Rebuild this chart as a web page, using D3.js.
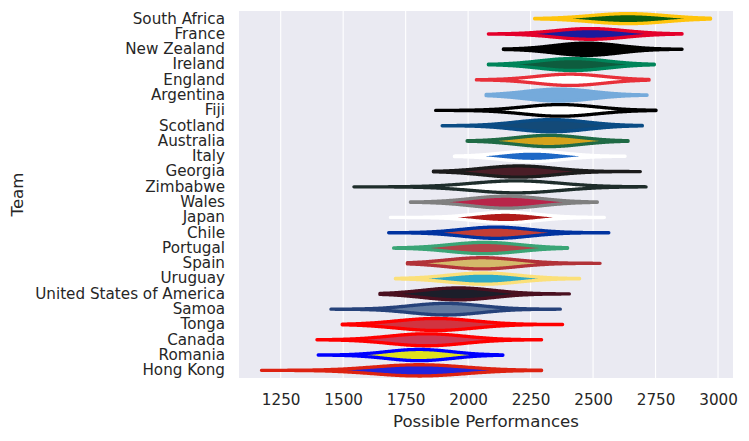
<!DOCTYPE html>
<html><head><meta charset="utf-8">
<script src="https://cdn.jsdelivr.net/npm/d3@7"></script>
<style>
html,body{margin:0;padding:0;background:#fff;}
svg{display:block;font-family:"DejaVu Sans",sans-serif;}
</style></head>
<body><svg id="chart" width="749" height="441"></svg>
<script>
const teams = ["South Africa","France","New Zealand","Ireland","England","Argentina","Fiji","Scotland","Australia","Italy","Georgia","Zimbabwe","Wales","Japan","Chile","Portugal","Spain","Uruguay","United States of America","Samoa","Tonga","Canada","Romania","Hong Kong"];
const centers = [2640,2489,2474,2419,2408,2363,2368,2333,2323,2257,2202,2192,2152,2150,2111,2066,2056,2061,1960,1910,1870,1834,1804,1804];
const spreads = [150,140,130,135,135,135,145,140,130,125,140,175,140,125,135,140,140,140,140,140,155,150,130,180];
const lows    = [2266,2081,2141,2081,2033,2072,1870,1896,1996,1945,1861,1543,1769,1689,1682,1702,1757,1709,1647,1451,1496,1395,1400,1173];
const highs   = [2970,2856,2856,2745,2724,2716,2752,2697,2640,2628,2689,2712,2517,2545,2563,2398,2528,2446,2405,2369,2378,2294,2139,2294];
const peaks   = [0.82,0.88,1.0,0.98,0.92,0.98,0.95,1.0,0.92,0.86,0.92,0.98,0.98,0.86,0.92,0.92,0.92,0.92,0.98,0.95,0.98,0.98,0.92,0.92];
const fills = ["#0b5c10","#1c1a9c","#000000","#0e5c3e","#ffffff","#75aadb","#ffffff","#134a78","#d4a21c","#1f69c6","#4a1d27","#ffffff","#b8254a","#b01a1a","#c33d35","#b2444a","#d4b96a","#2eaac7","#1c1e2a","#627aa0","#d13440","#cd3a55","#dfe01e","#2222dd"];
const edges = ["#ffc40c","#e4002b","#000000","#00845a","#e8303a","#75aadb","#000000","#0a4c85","#1f6a45","#ffffff","#1c1c1c","#1e2d2b","#808080","#ffffff","#0033a0","#3aa576","#b23238","#fbe07a","#4a1020","#26427a","#ff0000","#ff0000","#0000ff","#dd2211"];
const xTicks = [1250,1500,1750,2000,2250,2500,2750,3000];

const svg = d3.select("#chart");
const m = {left:239, right:733, top:11, bottom:378};
const lo = d3.min(lows), hi = d3.max(highs), pad = (hi-lo)*0.05;
const x = d3.scaleLinear().domain([lo-pad, hi+pad]).range([m.left, m.right]);
const y = d3.scaleBand().domain(teams).range([m.top, m.bottom]).paddingInner(0).paddingOuter(0);
const textColor = "#262626";

svg.append("rect").attr("x",m.left).attr("y",m.top).attr("width",m.right-m.left).attr("height",m.bottom-m.top).attr("fill","#eaeaf2");

svg.append("g").selectAll("line").data(xTicks).join("line")
  .attr("x1",d=>x(d)).attr("x2",d=>x(d)).attr("y1",m.top).attr("y2",m.bottom)
  .attr("stroke","#fff").attr("stroke-width",1.1);

const maxHalf = y.bandwidth()*0.8/2;
const g = svg.append("g");
teams.forEach((t,i)=>{
  const cy = y(t)+y.bandwidth()/2;
  const n = 200;
  const pts = d3.range(n+1).map(k=>{
    const v = lows[i] + (highs[i]-lows[i])*k/n;
    const z = (v-centers[i])/spreads[i];
    return {v, w: maxHalf*peaks[i]*Math.exp(-0.5*z*z)};
  });
  const area = d3.area().x(d=>x(d.v)).y0(d=>cy-d.w).y1(d=>cy+d.w);
  g.append("path").attr("d",area(pts))
    .attr("fill",fills[i]).attr("stroke",edges[i]).attr("stroke-width",3.3)
    .attr("stroke-linejoin","round");
});

const xAxis = svg.append("g").attr("transform",`translate(0,${m.bottom})`)
  .call(d3.axisBottom(x).tickValues(xTicks).tickSize(0).tickPadding(16).tickFormat(d3.format("d")));
xAxis.select(".domain").remove();
xAxis.selectAll("text").attr("fill",textColor).style("font-size","15.2px").style("font-family","DejaVu Sans");

const yAxis = svg.append("g").attr("transform",`translate(${m.left},0)`)
  .call(d3.axisLeft(y).tickSize(0).tickPadding(14));
yAxis.select(".domain").remove();
yAxis.selectAll("text").attr("fill",textColor).style("font-size","15.2px").style("font-family","DejaVu Sans");

svg.append("text").attr("x",(m.left+m.right)/2).attr("y",427).attr("text-anchor","middle")
  .attr("fill",textColor).style("font-size","16.6px").text("Possible Performances");
svg.append("text").attr("transform",`translate(23,${(m.top+m.bottom)/2}) rotate(-90)`).attr("text-anchor","middle")
  .attr("fill",textColor).style("font-size","16.6px").text("Team");
</script></body></html>
